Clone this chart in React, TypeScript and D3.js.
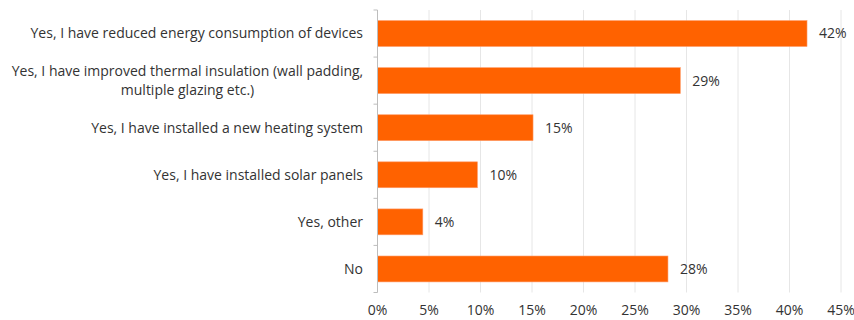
import React, { useEffect } from "react";
import * as d3 from "d3";

const categories: string[][] = [
  ["Yes, I have reduced energy consumption of devices"],
  ["Yes, I have improved thermal insulation (wall padding,", "multiple glazing etc.)"],
  ["Yes, I have installed a new heating system"],
  ["Yes, I have installed solar panels"],
  ["Yes, other"],
  ["No"],
];
const values: number[] = [41.7, 29.4, 15.1, 9.7, 4.4, 28.2];
const valueLabels: string[] = ["42%", "29%", "15%", "10%", "4%", "28%"];
const xTicks: number[] = [0, 5, 10, 15, 20, 25, 30, 35, 40, 45];

const W = 854;
const H = 320;
const FONT = "'Open Sans', 'DejaVu Sans', sans-serif";
const FS = 14;

export default function App() {
  useEffect(() => {
    document.body.style.margin = "0";
  }, []);

  const x = d3.scaleLinear().domain([0, 45]).range([377.5, 841]);
  const y = d3
    .scaleBand<number>()
    .domain(d3.range(categories.length))
    .range([10, 292.5])
    .paddingInner(0.45)
    .paddingOuter(0.225);
  const bandStep = y.step();
  const bounds = d3.range(categories.length + 1).map((i) => 10 + i * bandStep);

  return (
    <svg width={W} height={H} style={{ display: "block" }} fontFamily={FONT}>
      {xTicks.map((t) =>
        t === 0 ? null : (
          <line key={"g" + t} x1={x(t)} x2={x(t)} y1={10} y2={292.5} stroke="#e6e6e6" strokeWidth={1} />
        )
      )}
      {values.map((v, i) => (
        <rect
          key={"b" + i}
          x={x(0)}
          y={y(i)!}
          width={x(v) - x(0)}
          height={y.bandwidth()}
          fill="#FF6200"
          stroke="#ff9a66"
          strokeWidth={0.6}
        />
      ))}
      <line x1={x(0)} x2={x(0)} y1={10} y2={292.5} stroke="#bdbdbd" strokeWidth={1} />
      {bounds.map((b, i) => (
        <line key={"t" + i} x1={x(0) - 4} x2={x(0)} y1={b} y2={b} stroke="#bdbdbd" strokeWidth={1} />
      ))}
      {values.map((v, i) => (
        <text
          key={"v" + i}
          x={x(v) + 12}
          y={y(i)! + y.bandwidth() / 2}
          dy="0.35em"
          fontSize={FS}
          fill="#333"
        >
          {valueLabels[i]}
        </text>
      ))}
      {categories.map((lines, i) => {
        const cy = y(i)! + y.bandwidth() / 2;
        const lh = 19;
        const startY = cy - ((lines.length - 1) * lh) / 2;
        if (lines.length === 1) {
          return (
            <text key={"c" + i} x={363} y={cy} dy="0.35em" textAnchor="end" fontSize={FS} fill="#333">
              {lines[0]}
            </text>
          );
        }
        return (
          <text key={"c" + i} fontSize={FS} fill="#333" textAnchor="middle">
            {lines.map((l, j) => (
              <tspan key={j} x={187.5} y={startY + j * lh} dy="0.35em">
                {l}
              </tspan>
            ))}
          </text>
        );
      })}
      {xTicks.map((t) => (
        <text key={"x" + t} x={x(t)} y={310} dy="0.35em" textAnchor="middle" fontSize={FS} fill="#333">
          {t + "%"}
        </text>
      ))}
    </svg>
  );
}
